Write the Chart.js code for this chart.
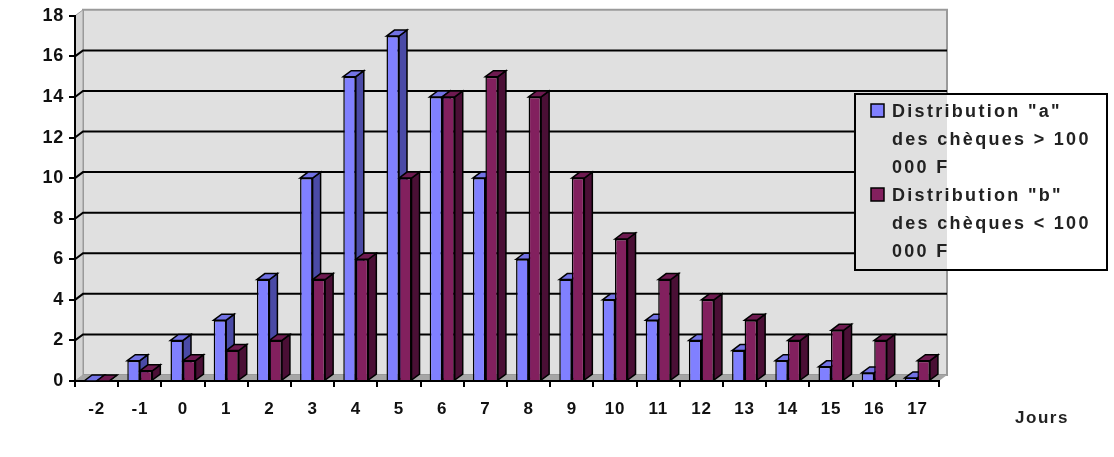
<!DOCTYPE html>
<html lang="fr">
<head>
    <meta charset="UTF-8">
    <title>Distribution des chèques</title>
    <script src="https://cdn.jsdelivr.net/npm/chart.js"></script>
    <style>
        body { margin: 0; background: #fff; }
    </style>
</head>
<body>
<canvas id="chequesChart" width="1114" height="457"></canvas>

<script>
    // Data
    var jours = ['-2', '-1', '0', '1', '2', '3', '4', '5', '6', '7', '8', '9', '10', '11', '12', '13', '14', '15', '16', '17'];
    var distA = [0, 1, 2, 3, 5, 10, 15, 17, 14, 10, 6, 5, 4, 3, 2, 1.5, 1, 0.7, 0.4, 0.15];
    var distB = [0, 0.5, 1, 1.5, 2, 5, 6, 10, 14, 15, 14, 10, 7, 5, 4, 3, 2, 2.5, 2, 1];
    var legendLines = [
        ['Distribution "a"', 'des chèques > 100', '000 F'],
        ['Distribution "b"', 'des chèques < 100', '000 F']
    ];
    var axisTitle = 'Jours';

    var DX = 8, DY = -6;
    var FONT = '"Liberation Sans", Arial, sans-serif';
    var faces = [
        { front: '#8080ff', top: '#7272e4', side: '#4a4aa6' },
        { front: '#82205e', top: '#6e1a50', side: '#4a0f35' }
    ];

    function poly(ctx, pts, fill, stroke, lw) {
        ctx.beginPath();
        ctx.moveTo(pts[0][0], pts[0][1]);
        for (var i = 1; i < pts.length; i++) ctx.lineTo(pts[i][0], pts[i][1]);
        ctx.closePath();
        if (fill) { ctx.fillStyle = fill; ctx.fill(); }
        if (stroke) { ctx.strokeStyle = stroke; ctx.lineWidth = lw || 1; ctx.stroke(); }
    }

    // back wall, side wall, floor and grid lines on the wall
    var wallPlugin = {
        id: 'wall',
        beforeDraw: function (chart) {
            var ctx = chart.ctx, a = chart.chartArea, y = chart.scales.y;
            ctx.save();
            poly(ctx, [[a.left + DX, a.top + DY], [a.right + DX, a.top + DY], [a.right + DX, a.bottom + DY], [a.left + DX, a.bottom + DY]], '#e0e0e0', '#9a9a9a', 2);
            poly(ctx, [[a.left, a.top], [a.left + DX, a.top + DY], [a.left + DX, a.bottom + DY], [a.left, a.bottom]], '#d4d4d4', '#9a9a9a', 1);
            poly(ctx, [[a.left, a.bottom], [a.left + DX, a.bottom + DY], [a.right + DX, a.bottom + DY], [a.right, a.bottom]], '#a6a6a6', null);
            y.ticks.forEach(function (t) {
                if (t.value <= 0 || t.value >= y.max) return;
                var py = y.getPixelForValue(t.value);
                ctx.beginPath();
                ctx.moveTo(a.left, py);
                ctx.lineTo(a.left + DX, py + DY);
                ctx.lineTo(a.right + DX, py + DY);
                ctx.strokeStyle = '#000';
                ctx.lineWidth = 2;
                ctx.stroke();
            });
            ctx.restore();
            // wider tracking for the axis labels drawn next
            ctx.letterSpacing = '0.8px';
        },
        // sides and tops of the bars, fronts come from Chart.js
        beforeDatasetsDraw: function (chart) {
            var ctx = chart.ctx;
            ctx.save();
            for (var i = 0; i < jours.length; i++) {
                chart.data.datasets.forEach(function (ds, d) {
                    var el = chart.getDatasetMeta(d).data[i];
                    var p = el.getProps(['x', 'y', 'width', 'base'], true);
                    var l = p.x - p.width / 2, r = p.x + p.width / 2;
                    poly(ctx, [[r, p.y], [r + DX, p.y + DY], [r + DX, p.base + DY], [r, p.base]], faces[d].side, '#000', 1.5);
                    poly(ctx, [[l, p.y], [l + DX, p.y + DY], [r + DX, p.y + DY], [r, p.y]], faces[d].top, '#000', 1.5);
                });
            }
            ctx.restore();
        },
        afterDraw: function (chart) {
            var ctx = chart.ctx, a = chart.chartArea;
            ctx.save();
            // legend box
            var bx = 855, by = 94, bw = 252, bh = 176;
            ctx.fillStyle = '#fff';
            ctx.fillRect(bx, by, bw, bh);
            ctx.fillStyle = '#e0e0e0';
            ctx.fillRect(bx, by, a.right + DX - bx, bh);
            ctx.strokeStyle = '#000';
            ctx.lineWidth = 2;
            ctx.strokeRect(bx, by, bw, bh);
            ctx.font = 'bold 18px ' + FONT;
            ctx.letterSpacing = '2.3px';
            ctx.fillStyle = '#222';
            ctx.textBaseline = 'middle';
            var ly = 112;
            legendLines.forEach(function (lines, d) {
                poly(ctx, [[871, ly - 8], [884, ly - 8], [884, ly + 5], [871, ly + 5]], faces[d].front, '#000', 1.5);
                ctx.fillStyle = '#222';
                lines.forEach(function (txt) {
                    ctx.fillText(txt, 892, ly);
                    ly += 28;
                });
            });
            // axis title
            ctx.textAlign = 'center';
            ctx.font = 'bold 17px ' + FONT;
            ctx.letterSpacing = '1.5px';
            ctx.fillText(axisTitle, 1042, 418);
            ctx.restore();
        }
    };

    var ctx = document.getElementById('chequesChart').getContext('2d');
    var chequesChart = new Chart(ctx, {
        type: 'bar',
        data: {
            labels: jours,
            datasets: [
                {
                    label: legendLines[0].join(' '),
                    data: distA,
                    backgroundColor: faces[0].front,
                    borderColor: '#000',
                    borderWidth: 1.5,
                    categoryPercentage: 0.58,
                    barPercentage: 1.0
                },
                {
                    label: legendLines[1].join(' '),
                    data: distB,
                    backgroundColor: faces[1].front,
                    borderColor: '#000',
                    borderWidth: 1.5,
                    categoryPercentage: 0.58,
                    barPercentage: 1.0
                }
            ]
        },
        options: {
            responsive: false,
            animation: false,
            layout: { padding: { top: 12, right: 175, left: 0, bottom: 0 } },
            plugins: { legend: { display: false }, tooltip: { enabled: false } },
            scales: {
                x: {
                    afterFit: function (s) { s.height = 76; },
                    grid: { drawOnChartArea: false, drawTicks: true, tickLength: 6, color: '#000', lineWidth: 2 },
                    border: { display: true, color: '#000', width: 2 },
                    ticks: { color: '#111', font: { family: FONT, size: 17, weight: 'bold' }, padding: 12 }
                },
                y: {
                    min: 0,
                    max: 18,
                    afterFit: function (s) { s.width = 75; },
                    grid: { drawOnChartArea: false, drawTicks: true, tickLength: 6, color: '#000', lineWidth: 2 },
                    border: { display: true, color: '#000', width: 2 },
                    ticks: { stepSize: 2, color: '#111', font: { family: FONT, size: 18, weight: 'bold' }, padding: 5 }
                }
            }
        },
        plugins: [wallPlugin]
    });
</script>
</body>
</html>
